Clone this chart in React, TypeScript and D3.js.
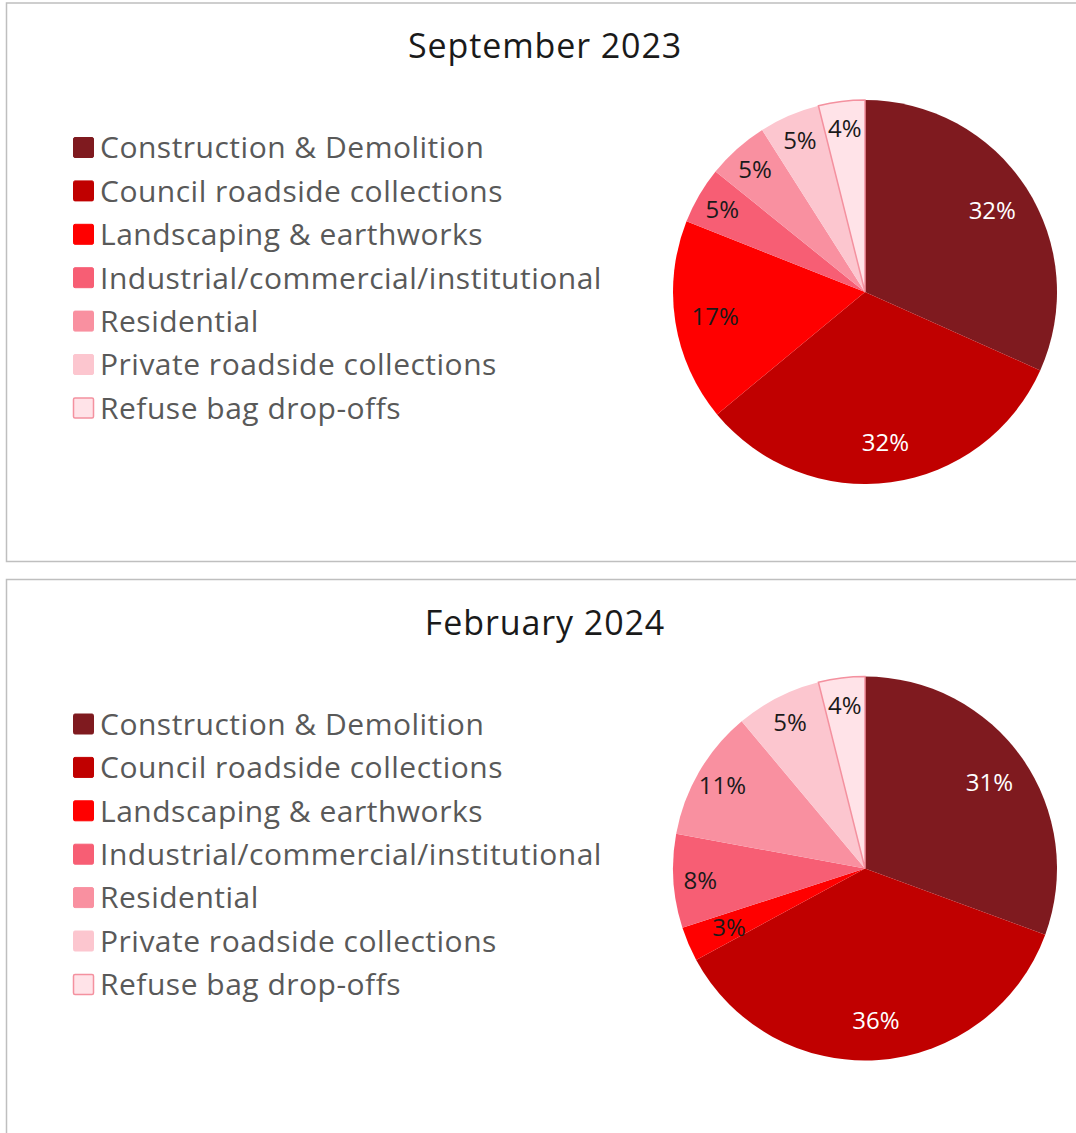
import React, { useEffect } from "react";
import * as d3 from "d3";

const categories = [
  "Construction & Demolition",
  "Council roadside collections",
  "Landscaping & earthworks",
  "Industrial/commercial/institutional",
  "Residential",
  "Private roadside collections",
  "Refuse bag drop-offs",
];

const colors = ["#7F1A1F", "#C00000", "#FF0000", "#F75E74", "#F990A0", "#FCC6CF", "#FFE3E8"];
const textColors = ["#FFFFFF", "#FFFFFF", "#1A1A1A", "#1A1A1A", "#1A1A1A", "#1A1A1A", "#1A1A1A"];

const titles = ["September 2023", "February 2024"];

// slice shares as drawn
const sep2023Values = [31.7, 32.3, 17.0, 4.8, 5.2, 5.1, 3.9];
const feb2024Values = [30.6, 36.5, 2.9, 7.9, 11.0, 7.2, 3.9];

// printed data labels
const sep2023Labels = ["32%", "32%", "17%", "5%", "5%", "5%", "4%"];
const feb2024Labels = ["31%", "36%", "3%", "8%", "11%", "5%", "4%"];

const W = 1076;
const H = 1133;
const FONT = "'Open Sans', Roboto, sans-serif";

function Panel({ y0, title, values, labels }: { y0: number; title: string; values: number[]; labels: string[] }) {
  const cx = 865;
  const cy = 289;
  const r = 192;
  const pie = d3.pie<number>().sort(null).value((d) => d).startAngle(0).endAngle(2 * Math.PI);
  const arcs = pie(values);
  const arc = d3.arc<d3.PieArcDatum<number>>().innerRadius(0).outerRadius(r);
  const legendY = d3.scaleLinear().domain([0, 1]).range([144.5, 187.9]);

  return (
    <g transform={`translate(0,${y0})`}>
      <rect x={6.5} y={0} width={1200} height={558.5} fill="#FFFFFF" stroke="#BFBFBF" strokeWidth={1.5} />
      <text x={545} y={55} textAnchor="middle" fontFamily={FONT} fontSize={34} letterSpacing={0.9} fill="#1A1A1A">
        {title}
      </text>
      {categories.map((c, i) => (
        <g key={c}>
          <rect
            x={73.5}
            y={legendY(i) - 10}
            width={20}
            height={20}
            rx={1.5}
            fill={colors[i]}
            stroke={i === 6 ? "#F4919F" : colors[i]}
            strokeWidth={i === 6 ? 1.5 : 1}
          />
          <text
            x={100}
            y={legendY(i)}
            dy="0.36em"
            fontFamily={FONT}
            fontSize={30}
            letterSpacing={0.5}
            fill="#595959"
          >
            {c}
          </text>
        </g>
      ))}
      <g transform={`translate(${cx},${cy})`}>
        {arcs.map((a, i) => (
          <path
            key={i}
            d={arc(a) || ""}
            fill={colors[i]}
            stroke={i === 6 ? "#F4919F" : "none"}
            strokeWidth={i === 6 ? 1.5 : 0}
          />
        ))}
        {arcs.map((a, i) => {
          const mid = (a.startAngle + a.endAngle) / 2;
          const share = a.value;
          const d = share >= 15 ? r * 0.79 : share < 4 && i === 2 ? r * 0.77 : r * 0.86;
          const x = Math.sin(mid) * d;
          const y = -Math.cos(mid) * d;
          return (
            <text
              key={"l" + i}
              x={x}
              y={y}
              dy="0.38em"
              textAnchor="middle"
              fontFamily={FONT}
              fontSize={24}
              fill={textColors[i]}
            >
              {labels[i]}
            </text>
          );
        })}
      </g>
    </g>
  );
}

export default function App() {
  useEffect(() => {
    document.body.style.margin = "0";
  }, []);
  return (
    <svg width={W} height={H} style={{ display: "block", background: "#FFFFFF" }}>
      <rect x={0} y={0} width={W} height={H} fill="#FFFFFF" />
      <Panel y0={3} title={titles[0]} values={sep2023Values} labels={sep2023Labels} />
      <Panel y0={579.5} title={titles[1]} values={feb2024Values} labels={feb2024Labels} />
    </svg>
  );
}
